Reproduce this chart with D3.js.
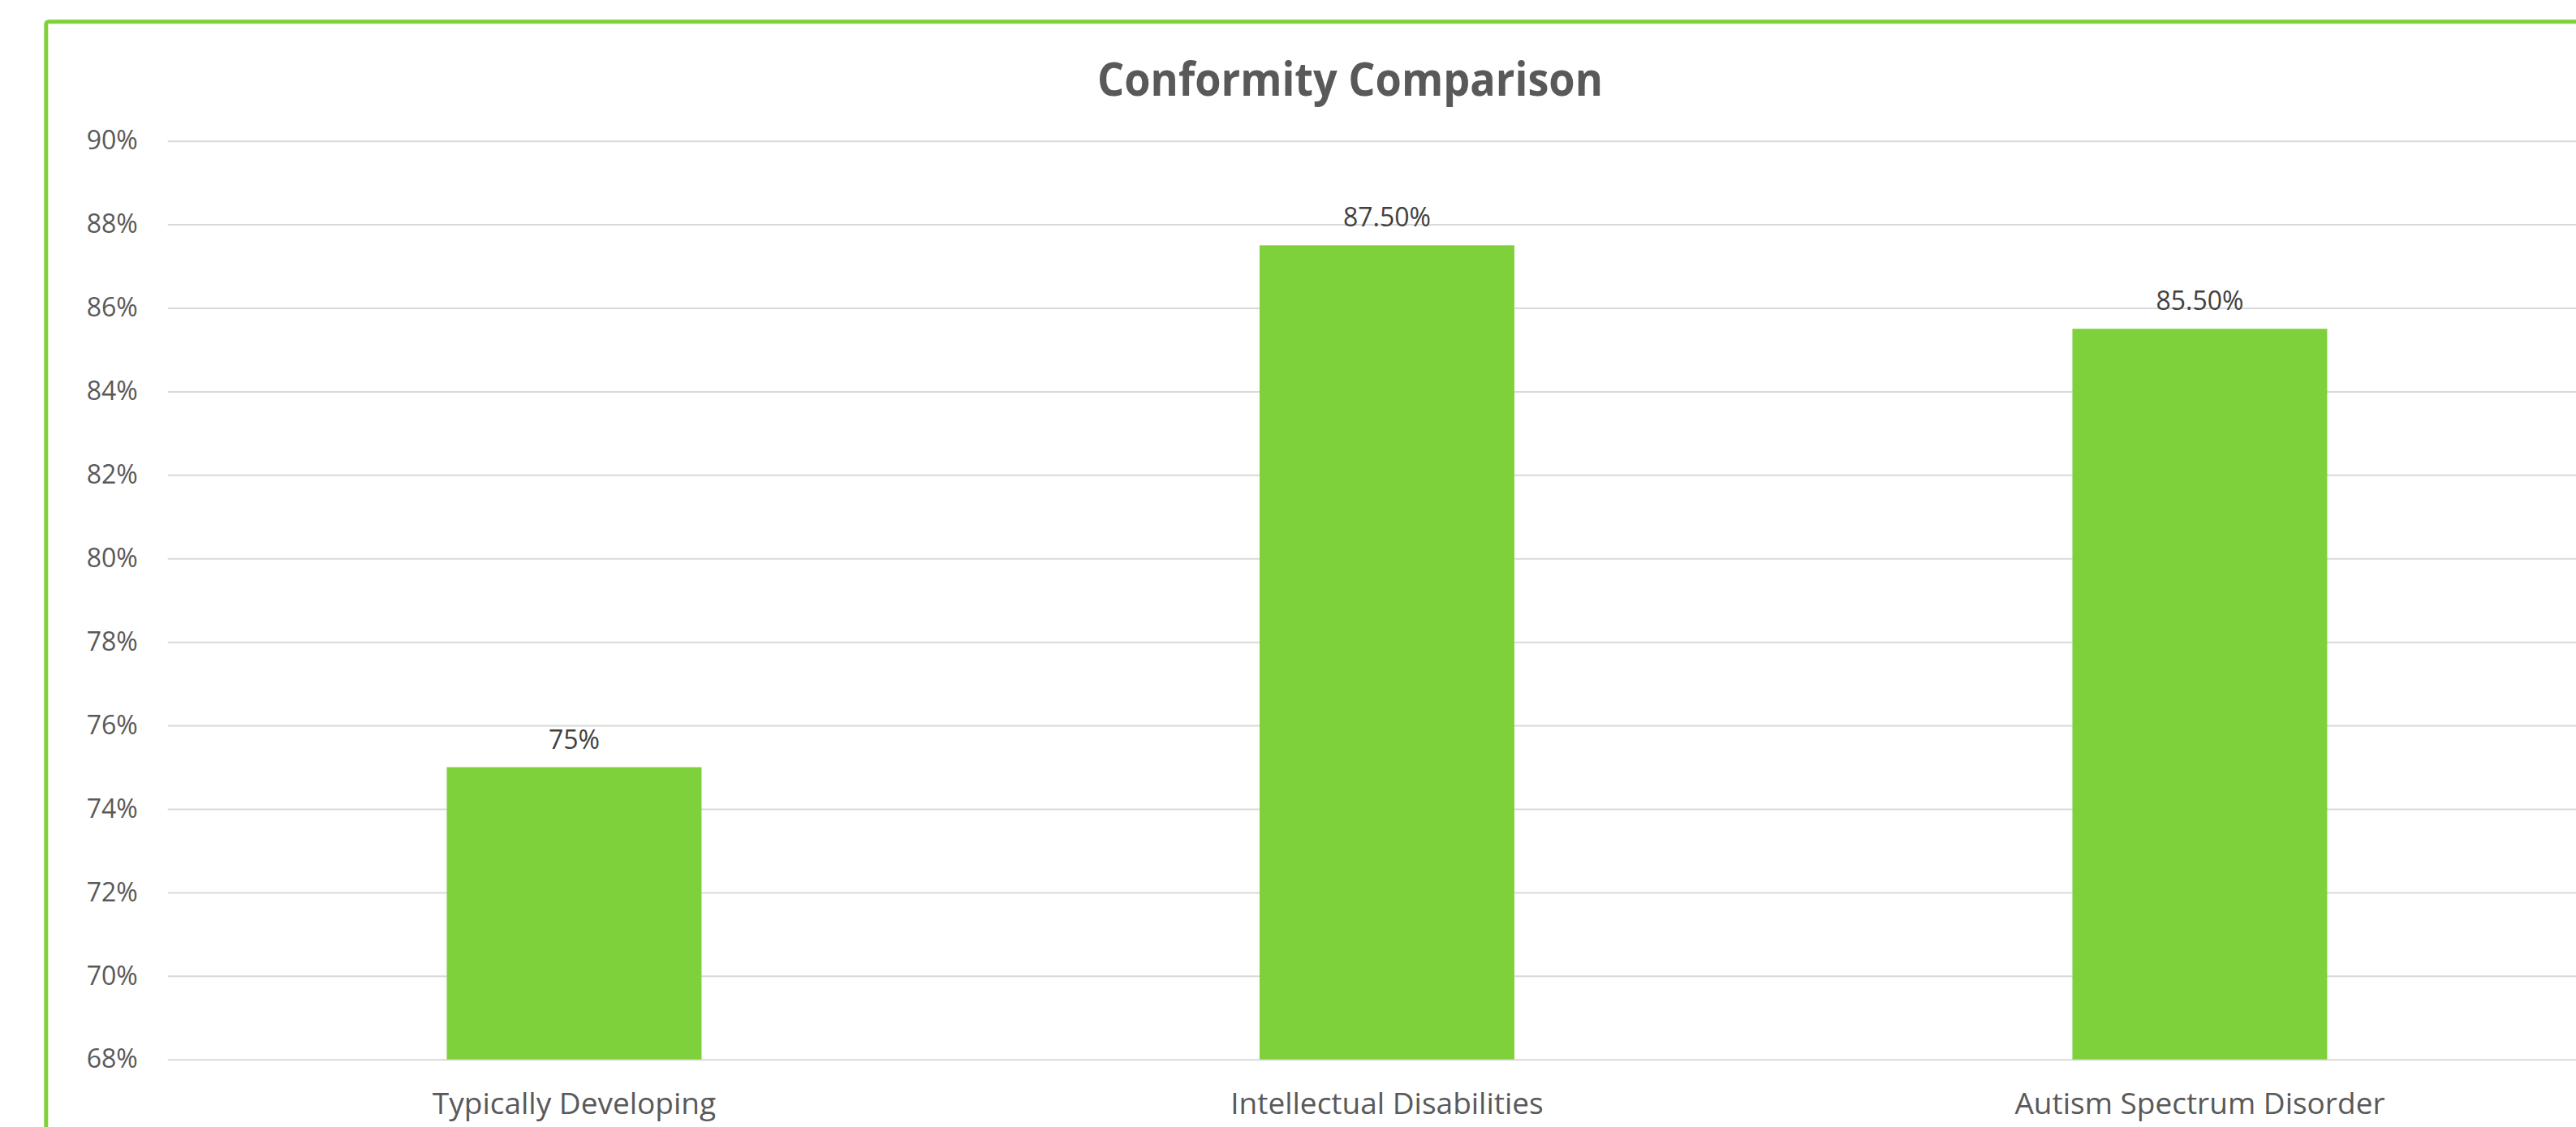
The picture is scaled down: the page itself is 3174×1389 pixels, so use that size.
<!DOCTYPE html>
<html>
<head>
<meta charset="utf-8">
<script src="https://cdn.jsdelivr.net/npm/d3@7"></script>
<style>
  body { margin: 0; background: #fff; }
  svg { display: block; }
</style>
</head>
<body>
<div id="container"></div>
<script>
var categories = ['Typically Developing', 'Intellectual Disabilities', 'Autism Spectrum Disorder'];
var values = [75, 87.5, 85.5];
var valueLabels = ['75%', '87.50%', '85.50%'];
var yTicks = [68, 70, 72, 74, 76, 78, 80, 82, 84, 86, 88, 90];
var title = 'Conformity Comparison';

var svgWidth = 3174,
    svgHeight = 1389,
    svg = d3.select('#container').append('svg').attr('width', svgWidth).attr('height', svgHeight).style('background-color', 'white'),
    plot = { left: 206.7, right: 3211.2, top: 173.7, bottom: 1305.7 };

var green = '#7fd13b';

// chart border (runs off the right and bottom edges)
svg.append('rect')
    .attr('x', 56.8).attr('y', 26.7)
    .attr('width', 3300).attr('height', 1500)
    .attr('rx', 3)
    .attr('fill', 'none')
    .attr('stroke', green)
    .attr('stroke-width', 5);

var x = d3.scaleBand().domain(categories).range([plot.left, plot.right])
    .paddingInner(0.6865).paddingOuter(0.34325);
var y = d3.scaleLinear().domain([68, 90]).range([plot.bottom, plot.top]);

// gridlines
svg.append('g')
    .attr('transform', 'translate(' + plot.left + ',0)')
    .call(d3.axisLeft(y).tickValues(yTicks).tickSize(-(plot.right - plot.left)).tickFormat(''))
    .call(function(g) { g.select('.domain').remove(); })
    .selectAll('line')
    .attr('stroke', '#d9d9d9')
    .attr('stroke-width', 2);

// y axis labels
svg.append('g')
    .attr('transform', 'translate(' + plot.left + ',0)')
    .call(d3.axisLeft(y).tickValues(yTicks).tickSize(0).tickPadding(37).tickFormat(function(d) { return d + '%'; }))
    .call(function(g) { g.select('.domain').remove(); })
    .selectAll('text')
    .attr('fill', '#595959')
    .style('font-family', '"Open Sans", sans-serif')
    .style('font-size', '32px');

// x axis labels
svg.append('g')
    .attr('transform', 'translate(0,' + plot.bottom + ')')
    .call(d3.axisBottom(x).tickSize(0).tickPadding(40.7))
    .call(function(g) { g.select('.domain').remove(); })
    .selectAll('text')
    .attr('fill', '#595959')
    .style('font-family', '"Open Sans", sans-serif')
    .style('font-size', '37px');

// bars
svg.append('g').selectAll('rect')
    .data(values)
    .enter().append('rect')
    .attr('x', function(d, i) { return x(categories[i]); })
    .attr('y', function(d) { return y(d); })
    .attr('width', x.bandwidth())
    .attr('height', function(d) { return y(68) - y(d); })
    .attr('fill', green);

// value labels
svg.append('g').selectAll('text')
    .data(values)
    .enter().append('text')
    .attr('x', function(d, i) { return x(categories[i]) + x.bandwidth() / 2; })
    .attr('y', function(d) { return y(d) - 23; })
    .attr('text-anchor', 'middle')
    .attr('fill', '#404040')
    .style('font-family', '"Open Sans", sans-serif')
    .style('font-size', '32px')
    .text(function(d, i) { return valueLabels[i]; });

// title
svg.append('text')
    .attr('x', 1663.5)
    .attr('y', 118.3)
    .attr('text-anchor', 'middle')
    .attr('fill', '#595959')
    .attr('textLength', 623)
    .attr('lengthAdjust', 'spacingAndGlyphs')
    .style('font-family', '"Open Sans", sans-serif')
    .style('font-weight', 'bold')
    .style('font-size', '58px')
    .text(title);
</script>
</body>
</html>
